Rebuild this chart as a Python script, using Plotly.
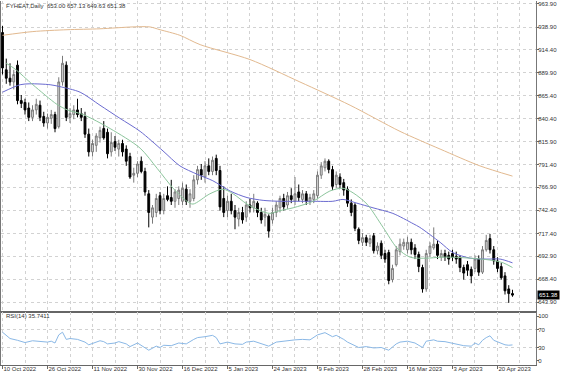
import plotly.graph_objects as go

# ---------------- data ----------------
OPEN = [933, 893, 884, 880, 898, 860, 858, 852, 842, 850, 855, 843, 836, 841, 845, 832, 880, 898, 842, 845,
        850, 846, 843, 824, 805, 812, 820, 830, 826, 805, 816, 808, 814, 808, 800, 780, 782, 795, 784, 760,
        735, 740, 758, 742, 758, 756, 752, 755, 752, 765, 752, 755, 775, 786, 778, 790, 784, 798, 785, 755,
        742, 752, 742, 733, 740, 735, 748, 745, 750, 740, 735, 736, 732, 740, 745, 755, 748, 758, 752, 762,
        754, 760, 752, 754, 758, 780, 788, 795, 786, 770, 778, 772, 765, 750, 748, 722, 708, 713, 707, 715,
        699, 707, 696, 697, 668, 684, 698, 704, 700, 708, 702, 695, 681, 658, 696, 702, 706, 692, 696, 694,
        696, 693, 692, 681, 684, 679, 680, 690, 676, 700, 712, 700, 688, 682, 672, 658, 653.00]
HIGH = [940, 905, 900, 893, 903, 866, 862, 858, 855, 862, 860, 848, 846, 850, 848, 885, 908, 902, 852, 855,
        862, 852, 848, 830, 818, 825, 832, 838, 830, 826, 822, 818, 818, 812, 804, 788, 795, 800, 788, 764,
        748, 760, 762, 760, 768, 775, 765, 768, 772, 770, 765, 780, 790, 792, 795, 798, 800, 802, 790, 768,
        758, 760, 748, 745, 746, 752, 755, 760, 752, 745, 745, 738, 745, 752, 758, 760, 762, 766, 778, 770,
        764, 763, 760, 764, 784, 794, 798, 797, 790, 784, 782, 776, 768, 754, 750, 724, 718, 716, 716, 718,
        708, 710, 700, 700, 684, 704, 712, 712, 714, 712, 706, 698, 684, 700, 708, 724, 710, 700, 700, 698,
        700, 698, 694, 684, 688, 682, 694, 694, 704, 716, 717, 704, 692, 686, 676, 662, 657.13]
LOW = [888, 878, 876, 872, 856, 852, 845, 838, 838, 845, 838, 832, 830, 835, 826, 830, 876, 838, 836, 840,
       842, 838, 820, 800, 800, 805, 815, 818, 798, 800, 806, 800, 800, 790, 776, 772, 778, 782, 758, 724,
       728, 735, 738, 738, 752, 748, 745, 748, 748, 748, 745, 752, 770, 775, 772, 780, 780, 780, 742, 735,
       735, 738, 722, 725, 728, 730, 740, 740, 735, 728, 725, 713, 728, 735, 740, 742, 744, 750, 748, 752,
       750, 748, 748, 750, 755, 776, 784, 782, 764, 766, 766, 758, 746, 736, 720, 706, 704, 704, 703, 696,
       695, 690, 686, 663, 665, 682, 694, 700, 696, 695, 690, 676, 654, 655, 692, 700, 690, 688, 688, 684,
       688, 685, 676, 668, 672, 664, 676, 672, 674, 698, 696, 684, 676, 668, 652, 643, 649.63]
CLOSE = [895, 884, 880, 888, 860, 857, 850, 842, 850, 856, 842, 836, 842, 845, 830, 880, 900, 842, 846, 850,
         845, 842, 824, 805, 814, 822, 828, 820, 803, 815, 810, 814, 805, 795, 778, 782, 792, 784, 762, 740,
         745, 755, 742, 755, 754, 752, 762, 764, 766, 752, 760, 775, 786, 780, 790, 784, 796, 785, 746, 740,
         752, 742, 735, 740, 732, 748, 745, 752, 740, 732, 738, 720, 740, 748, 755, 746, 758, 754, 760, 756,
         760, 752, 756, 760, 780, 790, 795, 786, 768, 780, 770, 764, 750, 740, 723, 710, 713, 708, 712, 699,
         704, 694, 690, 667, 680, 700, 706, 708, 708, 700, 695, 682, 658, 696, 704, 706, 694, 696, 692, 690,
         692, 690, 681, 675, 678, 672, 690, 676, 700, 710, 700, 688, 680, 670, 656, 653, 651.38]

# moving averages (bar index, value)
MA_FAST_BAR = [1, 3.3, 8.1, 14.5, 17.3, 21.5, 28.7, 36.7, 41.3, 45.5, 49.2, 50.8, 55.3, 58.8, 61.5, 65.2, 68.7,
               71.3, 74, 77.5, 82.8, 87.3, 90.8, 93.5, 97.2, 101.5, 105.2, 108.7, 113.2, 116.7, 120.1, 124.7,
               130, 133.5, 136]
MA_FAST_VAL = [900, 894, 877, 856, 850, 845, 830, 809, 787, 766, 752, 749, 760, 765, 760, 749, 742,
               739, 742, 745, 752, 763, 766, 761, 749, 724, 702, 692, 691, 692, 692, 691,
               689, 686, 681]
MA_MID_BAR = [0, 4.7, 7.3, 12.7, 15.3, 20.7, 26, 31.3, 36.7, 42.8, 47.3, 51.9, 56.1, 60.7, 65.2, 69.5, 74,
              78.5, 82.8, 88.1, 90.8, 94.5, 98.8, 104.1, 109.5, 111.3, 116.7, 120.1, 124.7, 129.2, 132.7, 136]
MA_MID_VAL = [869, 877, 878, 877, 875, 869, 855, 841, 827, 806, 790, 781, 774, 763, 756, 753, 752,
              752, 752, 752, 754, 750, 745, 739, 728, 724, 708, 697, 691, 690, 690, 686]
MA_SLOW_BAR = [0, 8.1, 17.2, 26, 34.8, 39.3, 42, 47.3, 52.7, 66, 79.3, 92.7, 106, 116.7, 127.3, 136]
MA_SLOW_VAL = [930, 934, 936, 937, 939, 939, 936, 930, 920, 904, 880, 855, 827, 808, 790, 779]

RSI_BAR = [0, 2, 4, 6, 8, 10, 12, 13, 14, 15, 16, 17, 18, 20, 22, 23, 26, 27, 28, 30, 31, 33, 34, 36, 38, 39,
           41, 42, 43, 45, 47, 49, 51, 52, 54, 56, 57, 58, 60, 62, 64, 65, 67, 69, 71, 73, 75, 76, 78, 80,
           82, 84, 86, 88, 89, 91, 92, 94, 95, 97, 99, 101, 103, 105, 106, 108, 110, 112, 113, 115, 116,
           118, 120, 122, 123, 125, 126, 127, 128, 129, 130, 131, 133, 134, 135, 136]
RSI_VAL = [64, 50, 46, 41, 45, 44, 42, 44, 40, 58, 64, 48, 50, 48, 42, 36, 45, 43, 38, 40, 43, 38, 32, 40, 30, 24,
           33, 30, 35, 34, 40, 38, 48, 52, 54, 57, 52, 38, 42, 38, 37, 42, 44, 38, 33, 42, 44, 46, 47, 48,
           47, 58, 63, 54, 57, 48, 42, 34, 30, 32, 29, 30, 24, 38, 42, 44, 40, 30, 44, 47, 44,
           43, 40, 36, 34, 33, 40, 36, 46, 52, 56, 46, 40, 36, 35, 35.7411]
RSI_LEVELS = [30, 70]

PRICE_TICKS = [963.90, 938.90, 914.40, 889.90, 865.40, 840.40, 815.90, 791.40, 766.90, 742.40, 717.40,
               692.90, 668.40, 643.90]
RSI_TICKS = [0, 30, 70, 100]
DATE_TICK_BARS = [0, 12, 24, 36, 48, 60, 72, 84, 96, 108, 120, 132]
DATE_LABELS = ["10 Oct 2022", "26 Oct 2022", "11 Nov 2022", "30 Nov 2022", "16 Dec 2022", "5 Jan 2023",
               "24 Jan 2023", "9 Feb 2023", "28 Feb 2023", "16 Mar 2023", "3 Apr 2023", "20 Apr 2023"]
SYMBOL = "FYHEAT,Daily"
LAST = dict(o=653.00, h=657.13, l=649.63, c=651.38)
RSI_NOW = 35.7411

BARS = list(range(len(CLOSE)))

# ---------------- figure ----------------
FONT = "Liberation Sans, Arial, sans-serif"
GRID = "#d2d2d2"
fig = go.Figure()

fig.add_trace(go.Candlestick(
    x=BARS, open=OPEN, high=HIGH, low=LOW, close=CLOSE,
    increasing=dict(line=dict(color="#7a7a7a", width=1), fillcolor="#dcdcdc"),
    decreasing=dict(line=dict(color="#000000", width=1), fillcolor="#000000"),
    whiskerwidth=0, showlegend=False, hoverinfo="skip", xaxis="x", yaxis="y"))

fig.add_trace(go.Scatter(x=MA_SLOW_BAR, y=MA_SLOW_VAL, mode="lines",
                         line=dict(color="#e2b98f", width=1, shape="spline", smoothing=0.8),
                         showlegend=False, hoverinfo="skip", xaxis="x", yaxis="y"))
fig.add_trace(go.Scatter(x=MA_MID_BAR, y=MA_MID_VAL, mode="lines",
                         line=dict(color="#6b6bd0", width=1, shape="spline", smoothing=0.8),
                         showlegend=False, hoverinfo="skip", xaxis="x", yaxis="y"))
fig.add_trace(go.Scatter(x=MA_FAST_BAR, y=MA_FAST_VAL, mode="lines",
                         line=dict(color="#8cc59c", width=1, shape="spline", smoothing=0.8),
                         showlegend=False, hoverinfo="skip", xaxis="x", yaxis="y"))

fig.add_trace(go.Scatter(x=RSI_BAR, y=RSI_VAL, mode="lines",
                         line=dict(color="#8ab8e6", width=1),
                         showlegend=False, hoverinfo="skip", xaxis="x2", yaxis="y2"))

shapes = []
for lv in RSI_LEVELS:
    shapes.append(dict(type="line", xref="x2 domain", yref="y2", x0=0, x1=1, y0=lv, y1=lv,
                       line=dict(color=GRID, width=1, dash="dot"), layer="below"))

XR = [-0.4, 142.27]
fig.update_layout(
    width=564, height=376,
    margin=dict(l=1, r=28, t=1, b=11, autoexpand=False),
    paper_bgcolor="white", plot_bgcolor="white",
    font=dict(family=FONT, size=6, color="#333333"),
    showlegend=False,
    xaxis=dict(domain=[0, 1], anchor="y", range=XR, rangeslider=dict(visible=False), automargin=False,
               tickvals=DATE_TICK_BARS, showticklabels=False, ticks="",
               showgrid=True, gridcolor=GRID, griddash="dot", gridwidth=1,
               minor=dict(tick0=6, dtick=12, showgrid=True, gridcolor=GRID, griddash="dot", gridwidth=1),
               showline=True, linecolor="#666666", linewidth=2, zeroline=False),
    yaxis=dict(domain=[0.1484, 1], anchor="x", side="right", range=[634.35, 966.8], automargin=False,
               tickvals=PRICE_TICKS, ticktext=[f"{v:.2f}" for v in PRICE_TICKS],
               ticks="outside", ticklen=2, tickcolor="#666666", ticklabelstandoff=-2,
               ticklabeloverflow="allow",
               showgrid=True, gridcolor=GRID, griddash="dot", gridwidth=1,
               showline=True, linecolor="#777777", linewidth=1, mirror=True, zeroline=False),
    xaxis2=dict(domain=[0, 1], anchor="y2", matches="x", range=XR, automargin=False,
                tickvals=DATE_TICK_BARS, ticktext=DATE_LABELS, ticks="outside", ticklen=3,
                tickcolor="#666666", ticklabelposition="outside right", ticklabelstandoff=-2,
                showgrid=True, gridcolor=GRID, griddash="dot", gridwidth=1,
                minor=dict(tick0=6, dtick=12, showgrid=True, gridcolor=GRID, griddash="dot", gridwidth=1),
                showline=True, linecolor="#666666", linewidth=1, zeroline=False),
    yaxis2=dict(domain=[0, 0.1456], anchor="x2", side="right", range=[-8.9, 108.9], automargin=False,
                tickvals=RSI_TICKS, ticks="outside", ticklen=2, tickcolor="#666666", ticklabelstandoff=-2,
                showgrid=False, showline=True, linecolor="#777777", linewidth=1, mirror=True,
                zeroline=False),
    shapes=shapes,
    annotations=[
        dict(xref="paper", yref="paper", x=0.006, y=0.986, xanchor="left", yanchor="middle",
             text=f"{SYMBOL}  {LAST['o']:.2f} {LAST['h']:.2f} {LAST['l']:.2f} {LAST['c']:.2f}",
             showarrow=False, font=dict(size=6, color="#333333")),
        dict(xref="paper", yref="paper", x=0.006, y=0.1346, xanchor="left", yanchor="middle",
             text=f"RSI(14) {RSI_NOW:.4f}", showarrow=False, font=dict(size=6, color="#333333")),
        dict(xref="paper", yref="y", x=1, y=LAST["c"], xanchor="left", yanchor="middle", xshift=1,
             text=f"{LAST['c']:.2f}", showarrow=False, bgcolor="#000000", borderpad=1,
             font=dict(size=6, color="#ffffff")),
    ],
)

fig.write_html("out.html", config={"displayModeBar": False},
               post_script="document.body.style.margin='0';document.body.style.overflow='hidden';")
